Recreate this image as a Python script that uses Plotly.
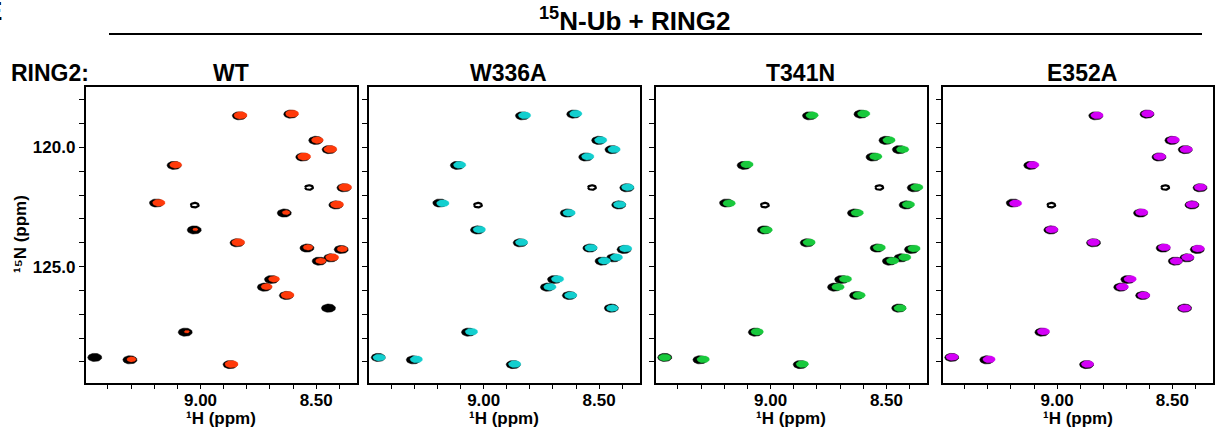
import numpy as np
import plotly.graph_objects as go

# ---------------- data (ppm) ----------------
panel_names = ["WT", "W336A", "T341N", "E352A"]
panel_colors = ["#FF3A0A", "#12CFCF", "#18C93C", "#D400F7"]

# free 15N-Ub reference peaks (black)
ref_h = [8.832, 8.610, 8.502, 8.444, 8.558, 9.114, 8.531, 8.380, 9.190, 9.025,
         8.415, 8.638, 9.027, 8.842, 8.540, 8.392, 8.437, 8.487, 8.693, 8.724,
         8.629, 8.447, 9.066, 9.457, 9.305, 8.872]
ref_n = [118.67, 118.60, 119.70, 120.09, 120.40, 120.75, 121.68, 121.69, 122.33, 122.42,
         122.41, 122.75, 123.46, 124.00, 124.22, 124.28, 124.63, 124.77, 125.54, 125.86,
         126.21, 126.74, 127.75, 128.81, 128.91, 129.11]
ref_int = [1.0, 1.0, 1.0, 1.0, 1.0, 1.0, 0.35, 1.0, 1.0, 0.30,
           1.0, 1.0, 1.0, 1.0, 1.0, 1.0, 1.0, 1.0, 1.0, 1.0,
           1.0, 1.0, 1.0, 1.0, 1.0, 1.0]

# + RING2 WT
wt_h = [8.827, 8.604, 8.495, 8.439, 8.552, 9.107, None, 8.375, 9.180, None,
        8.410, 8.630, 9.022, 8.837, 8.535, 8.387, 8.431, 8.480, 8.682, 8.714,
        8.624, None, 9.059, None, 9.298, 8.866]
wt_n = [118.65, 118.58, 119.69, 120.07, 120.38, 120.73, None, 121.67, 122.32, None,
        122.39, 122.73, 123.44, 123.98, 124.19, 124.26, 124.61, 124.76, 125.52, 125.84,
        126.19, None, 127.73, None, 128.89, 129.09]
wt_int = [1.0, 1.0, 0.9, 1.0, 1.0, 0.92, None, 1.0, 0.95, None,
          1.0, 0.6, 0.4, 1.0, 0.75, 0.8, 1.0, 0.8, 0.85, 0.85,
          1.0, None, 0.4, None, 0.7, 1.0]

# + RING2 W336A
w336a_h = [8.823, 8.601, 8.493, 8.435, 8.549, 9.104, None, 8.376, 9.177, None,
           8.411, 8.630, 9.019, 8.836, 8.535, 8.385, 8.425, 8.477, 8.680, 8.713,
           8.623, 8.443, 9.053, 9.453, 9.292, 8.866]
w336a_n = [118.65, 118.58, 119.69, 120.08, 120.38, 120.73, None, 121.67, 122.34, None,
           122.39, 122.74, 123.44, 123.98, 124.21, 124.24, 124.61, 124.75, 125.52, 125.85,
           126.20, 126.74, 127.73, 128.81, 128.89, 129.09]
w336a_int = [0.95, 0.95, 0.95, 0.95, 0.95, 0.95, None, 0.95, 0.95, None,
             0.95, 0.95, 0.95, 0.95, 0.95, 0.95, 0.95, 0.95, 0.95, 0.95,
             0.95, 0.9, 0.95, 0.95, 0.95, 0.95]

# + RING2 T341N
t341n_h = [8.821, 8.598, 8.489, 8.430, 8.546, 9.102, None, 8.369, 9.179, None,
           8.405, 8.626, 9.019, 8.834, 8.531, 8.381, 8.421, 8.473, 8.677, 8.709,
           8.618, 8.441, 9.058, 9.457, 9.291, 8.863]
t341n_n = [118.65, 118.58, 119.69, 120.08, 120.38, 120.71, None, 121.67, 122.34, None,
           122.39, 122.74, 123.46, 123.98, 124.20, 124.24, 124.61, 124.75, 125.52, 125.85,
           126.20, 126.74, 127.73, 128.81, 128.89, 129.09]
t341n_int = [0.95, 0.95, 0.95, 0.95, 0.95, 0.95, None, 0.95, 0.95, None,
             0.95, 0.95, 0.95, 0.95, 0.95, 0.95, 0.95, 0.95, 0.95, 0.95,
             0.95, 0.95, 0.95, 0.95, 0.95, 0.95]

# + RING2 E352A
e352a_h = [8.827, 8.607, 8.496, 8.440, 8.555, 9.105, None, 8.378, 9.180, None,
           8.414, 8.633, 9.023, 8.842, 8.535, 8.388, 8.433, 8.483, 8.683, 8.717,
           8.624, 8.446, 9.059, 9.455, 9.295, 8.868]
e352a_n = [118.65, 118.58, 119.68, 120.08, 120.38, 120.73, None, 121.67, 122.34, None,
           122.39, 122.72, 123.44, 123.98, 124.19, 124.24, 124.61, 124.76, 125.52, 125.85,
           126.20, 126.74, 127.72, 128.79, 128.89, 129.09]
e352a_int = [0.95, 0.95, 0.95, 0.95, 0.95, 0.95, None, 0.95, 0.95, None,
             0.95, 0.95, 0.95, 0.95, 0.95, 0.95, 0.95, 0.95, 0.95, 0.95,
             0.95, 0.95, 0.95, 0.95, 0.95, 0.95]

bound_h = [wt_h, w336a_h, t341n_h, e352a_h]
bound_n = [wt_n, w336a_n, t341n_n, e352a_n]
bound_int = [wt_int, w336a_int, t341n_int, e352a_int]

x_tick_vals = [9.0, 8.5]
x_tick_text = ["9.00", "8.50"]
x_minor_vals = [9.4, 9.3, 9.2, 9.1, 8.9, 8.8, 8.7, 8.6, 8.4]
y_tick_vals = [120, 125]
y_tick_text = ["120.0", "125.0"]
y_minor_vals = [118, 119, 121, 122, 123, 124, 126, 127, 128, 129]

# ---------------- layout constants ----------------
W, H = 1217, 433
FONT = "Liberation Sans, Arial, Helvetica, sans-serif"
X_RANGE = [9.497, 8.325]
Y_RANGE = [129.87, 117.44]
x_dom_px = [(85.5, 356.7), (369.0, 639.5), (655.5, 927.0), (942.5, 1212.7)]
y_dom_px = (86.5, 382.7)

PPM_PER_PX_H = (X_RANGE[0] - X_RANGE[1]) / 271.0
PPM_PER_PX_N = (Y_RANGE[0] - Y_RANGE[1]) / 296.0
COL_HW, COL_HH = 6.6 * PPM_PER_PX_H, 3.7 * PPM_PER_PX_N
REF_HW, REF_HH = 7.1 * PPM_PER_PX_H, 4.1 * PPM_PER_PX_N
RING_SCALE = 0.55

T = np.linspace(0, 2 * np.pi, 37)


def ellipse_paths(hs, ns, scales, hw, hh):
    xs, ys = [], []
    for h, n, s in zip(hs, ns, scales):
        if h is None or n is None or s is None:
            continue
        xs += list(h + hw * s * np.cos(T)) + [None]
        ys += list(n + hh * s * np.sin(T)) + [None]
    return xs, ys


fig = go.Figure()

strong = [i for i, v in enumerate(ref_int) if v >= 0.5]
weak = [i for i, v in enumerate(ref_int) if v < 0.5]

for p in range(4):
    xa = "x" if p == 0 else f"x{p+1}"
    ya = "y" if p == 0 else f"y{p+1}"
    # black reference peaks
    xs, ys = ellipse_paths([ref_h[i] for i in strong], [ref_n[i] for i in strong],
                           [1.0] * len(strong), REF_HW, REF_HH)
    fig.add_trace(go.Scatter(x=xs, y=ys, mode="lines", fill="toself",
                             fillcolor="black", line=dict(color="black", width=0.5),
                             xaxis=xa, yaxis=ya, hoverinfo="skip"))
    xs, ys = ellipse_paths([ref_h[i] for i in weak], [ref_n[i] for i in weak],
                           [RING_SCALE] * len(weak), REF_HW, REF_HH)
    fig.add_trace(go.Scatter(x=xs, y=ys, mode="lines", fill="toself",
                             fillcolor="white", line=dict(color="black", width=2.2),
                             xaxis=xa, yaxis=ya, hoverinfo="skip"))
    # complex peaks (coloured)
    xs, ys = ellipse_paths(bound_h[p], bound_n[p], bound_int[p], COL_HW, COL_HH)
    fig.add_trace(go.Scatter(x=xs, y=ys, mode="lines", fill="toself",
                             fillcolor=panel_colors[p],
                             line=dict(color=panel_colors[p], width=0.3),
                             xaxis=xa, yaxis=ya, hoverinfo="skip"))

tickfont = dict(family=FONT, size=17, color="black", weight="bold")
layout = dict(
    width=W, height=H, margin=dict(l=0, r=0, t=0, b=0),
    paper_bgcolor="white", plot_bgcolor="white", showlegend=False,
)
for p in range(4):
    sx = "" if p == 0 else str(p + 1)
    a, b = x_dom_px[p]
    layout["xaxis" + sx] = dict(
        domain=[a / W, b / W], range=X_RANGE, anchor="y" + sx,
        tickmode="array", tickvals=x_tick_vals, ticktext=x_tick_text,
        ticks="outside", ticklen=5, tickwidth=1.3, tickcolor="black",
        ticklabelstandoff=-4,
        minor=dict(tickmode="array", tickvals=x_minor_vals, ticks="outside",
                   ticklen=5, tickwidth=1.3, tickcolor="black", showgrid=False),
        showline=True, linecolor="black", linewidth=1.5, mirror=True,
        showgrid=False, zeroline=False, tickfont=tickfont,
    )
    layout["yaxis" + sx] = dict(
        domain=[1 - y_dom_px[1] / H, 1 - y_dom_px[0] / H], range=Y_RANGE, anchor="x" + sx,
        tickmode="array", tickvals=y_tick_vals, ticktext=y_tick_text,
        showticklabels=(p == 0),
        ticks="outside", ticklen=5, tickwidth=1.3, tickcolor="black",
        minor=dict(tickmode="array", tickvals=y_minor_vals, ticks="outside",
                   ticklen=5, tickwidth=1.3, tickcolor="black", showgrid=False),
        showline=True, linecolor="black", linewidth=1.5, mirror=True,
        showgrid=False, zeroline=False, tickfont=tickfont,
    )
fig.update_layout(**layout)


def px_x(v):
    return v / W


def px_y(v):
    return 1 - v / H


ann = []
ann.append(dict(text="<sup>15</sup>N-Ub + RING2", x=px_x(634), y=px_y(19),
                font=dict(family=FONT, size=26, color="black", weight="bold")))
ann.append(dict(text="E", x=px_x(4), y=px_y(11), xanchor="right",
                font=dict(family=FONT, size=26, color="black", weight="bold")))
ann.append(dict(text="RING2:", x=px_x(50), y=px_y(72.5),
                font=dict(family=FONT, size=23, color="black", weight="bold")))
title_cx = [231, 508, 800, 1082]
for p in range(4):
    ann.append(dict(text=panel_names[p], x=px_x(title_cx[p]), y=px_y(72.5),
                    font=dict(family=FONT, size=23, color="black", weight="bold")))
    a, b = x_dom_px[p]
    ann.append(dict(text="\u00b9H (ppm)", x=px_x((a + b) / 2), y=px_y(418),
                    font=dict(family=FONT, size=17, color="black", weight="bold")))
ann.append(dict(text="\u00b9\u2075N (ppm)", x=px_x(20), y=px_y(234), textangle=-90,
                font=dict(family=FONT, size=17, color="black", weight="bold")))
for a_ in ann:
    a_.update(xref="paper", yref="paper", showarrow=False)
    a_.setdefault("xanchor", "center")
    a_.setdefault("yanchor", "middle")
fig.update_layout(annotations=ann)

fig.add_shape(type="line", xref="paper", yref="paper",
              x0=px_x(109), x1=px_x(1202), y0=px_y(34), y1=px_y(34),
              line=dict(color="black", width=2))

fig.write_html("out.html", config={"displayModeBar": False},
               post_script="document.body.style.margin='0';document.body.style.padding='0';")
